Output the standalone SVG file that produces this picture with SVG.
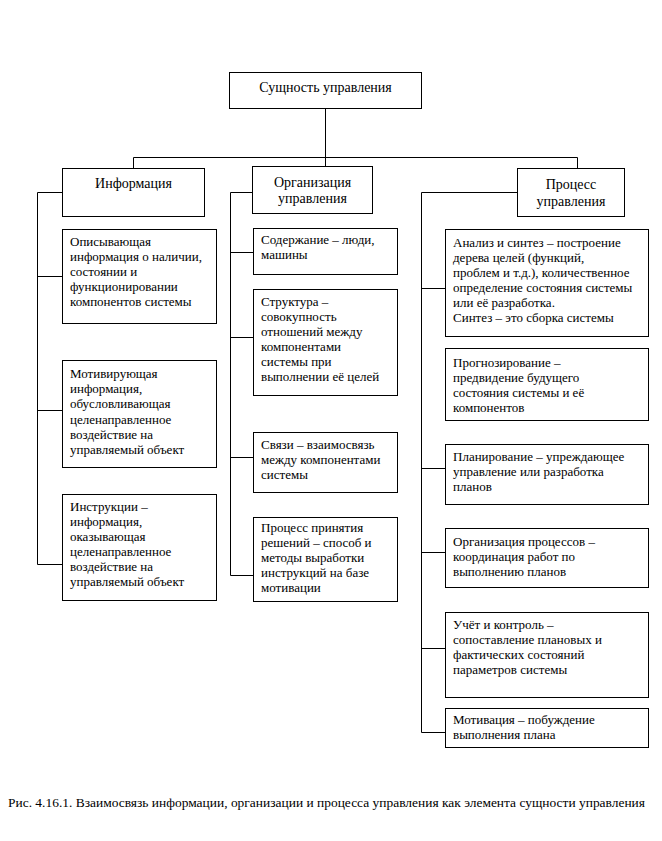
<svg xmlns="http://www.w3.org/2000/svg" width="662" height="841" viewBox="0 0 662 841" font-family="'Liberation Serif', 'Times New Roman', Times, 'DejaVu Serif', serif">
<style>
.box{fill:#fff;stroke:#000;stroke-width:1}
.ln{fill:none;stroke:#000;stroke-width:1}
text{font-size:13px;fill:#000}
.h{font-size:14px;text-anchor:middle}
.cap{font-size:12px}
</style>
<rect width="662" height="841" fill="#fff"/>
<g id="connectors">
<path class="ln" d="M325.5,108 V166 M133.5,168 V157.5 H577.5 V168"/>
<path class="ln" d="M62,192.5 H37.5 V564.5 H62 M37.5,276.5 H62 M37.5,410.5 H62"/>
<path class="ln" d="M252,192.5 H230.5 V575.5 H253 M230.5,252.5 H253 M230.5,337.5 H253 M230.5,457.5 H253"/>
<path class="ln" d="M517,192.5 H421.5 V732.5 H445 M421.5,288.5 H445 M421.5,468.5 H445 M421.5,552.5 H445 M421.5,648.5 H445"/>
</g>
<g id="root"><rect class="box" x="229.5" y="72.5" width="192" height="36"/><text class="h" x="325.5" y="92">Сущность управления</text></g>
<g id="info"><rect class="box" x="62.5" y="168.5" width="142" height="48"/><text class="h" x="133.5" y="188">Информация</text></g>
<g id="org"><rect class="box" x="252.5" y="166.5" width="120" height="47"/><text class="h" x="312.5" y="187">Организация</text><text class="h" x="312.5" y="203">управления</text></g>
<g id="proc"><rect class="box" x="517.5" y="168.5" width="107" height="48"/><text class="h" x="571" y="189">Процесс</text><text class="h" x="571" y="206">управления</text></g>

<g id="info1"><rect class="box" x="62.5" y="229.5" width="154" height="94"/><text x="70"><tspan x="70" y="246">Описывающая</tspan><tspan x="70" y="261">информация о наличии,</tspan><tspan x="70" y="276">состоянии и</tspan><tspan x="70" y="291">функционировании</tspan><tspan x="70" y="306">компонентов системы</tspan></text></g>
<g id="info2"><rect class="box" x="62.5" y="360.5" width="154" height="107"/><text x="70"><tspan x="70" y="378">Мотивирующая</tspan><tspan x="70" y="393">информация,</tspan><tspan x="70" y="408">обусловливающая</tspan><tspan x="70" y="424">целенаправленное</tspan><tspan x="70" y="439">воздействие на</tspan><tspan x="70" y="454">управляемый объект</tspan></text></g>
<g id="info3"><rect class="box" x="62.5" y="494.5" width="154" height="106"/><text x="70"><tspan x="70" y="511">Инструкции –</tspan><tspan x="70" y="526">информация,</tspan><tspan x="70" y="541">оказывающая</tspan><tspan x="70" y="556">целенаправленное</tspan><tspan x="70" y="571">воздействие на</tspan><tspan x="70" y="586">управляемый объект</tspan></text></g>

<g id="org1"><rect class="box" x="253.5" y="228.5" width="144" height="46"/><text x="261"><tspan x="261" y="244">Содержание – люди,</tspan><tspan x="261" y="259">машины</tspan></text></g>
<g id="org2"><rect class="box" x="253.5" y="289.5" width="144" height="106"/><text x="261"><tspan x="261" y="306">Структура –</tspan><tspan x="261" y="321">совокупность</tspan><tspan x="261" y="336">отношений между</tspan><tspan x="261" y="351">компонентами</tspan><tspan x="261" y="366">системы при</tspan><tspan x="261" y="381">выполнении её целей</tspan></text></g>
<g id="org3"><rect class="box" x="253.5" y="432.5" width="144" height="60"/><text x="261"><tspan x="261" y="449">Связи – взаимосвязь</tspan><tspan x="261" y="464">между компонентами</tspan><tspan x="261" y="479">системы</tspan></text></g>
<g id="org4"><rect class="box" x="253.5" y="517.5" width="144" height="84"/><text x="261"><tspan x="261" y="532">Процесс принятия</tspan><tspan x="261" y="547">решений – способ и</tspan><tspan x="261" y="562">методы выработки</tspan><tspan x="261" y="577">инструкций на базе</tspan><tspan x="261" y="592">мотивации</tspan></text></g>

<g id="proc1"><rect class="box" x="445.5" y="229.5" width="203" height="107"/><text x="453"><tspan x="453" y="247">Анализ и синтез – построение</tspan><tspan x="453" y="262">дерева целей (функций,</tspan><tspan x="453" y="277">проблем и т.д.), количественное</tspan><tspan x="453" y="292">определение состояния системы</tspan><tspan x="453" y="307">или её разработка.</tspan><tspan x="453" y="322">Синтез – это сборка системы</tspan></text></g>
<g id="proc2"><rect class="box" x="445.5" y="348.5" width="203" height="72"/><text x="453"><tspan x="453" y="367">Прогнозирование –</tspan><tspan x="453" y="382">предвидение будущего</tspan><tspan x="453" y="397">состояния системы и её</tspan><tspan x="453" y="412">компонентов</tspan></text></g>
<g id="proc3"><rect class="box" x="445.5" y="444.5" width="203" height="60"/><text x="453"><tspan x="453" y="461">Планирование – упреждающее</tspan><tspan x="453" y="476">управление или разработка</tspan><tspan x="453" y="491">планов</tspan></text></g>
<g id="proc4"><rect class="box" x="445.5" y="528.5" width="203" height="59"/><text x="453"><tspan x="453" y="546">Организация процессов –</tspan><tspan x="453" y="561">координация работ по</tspan><tspan x="453" y="576">выполнению планов</tspan></text></g>
<g id="proc5"><rect class="box" x="445.5" y="612.5" width="203" height="85"/><text x="453"><tspan x="453" y="629">Учёт и контроль –</tspan><tspan x="453" y="644">сопоставление плановых и</tspan><tspan x="453" y="659">фактических состояний</tspan><tspan x="453" y="674">параметров системы</tspan></text></g>
<g id="proc6"><rect class="box" x="445.5" y="708.5" width="203" height="39"/><text x="453"><tspan x="453" y="724">Мотивация – побуждение</tspan><tspan x="453" y="739">выполнения плана</tspan></text></g>

<text class="cap" x="8" y="807" textLength="637" lengthAdjust="spacingAndGlyphs">Рис. 4.16.1.  Взаимосвязь информации, организации и процесса управления как элемента сущности управления</text>
</svg>
